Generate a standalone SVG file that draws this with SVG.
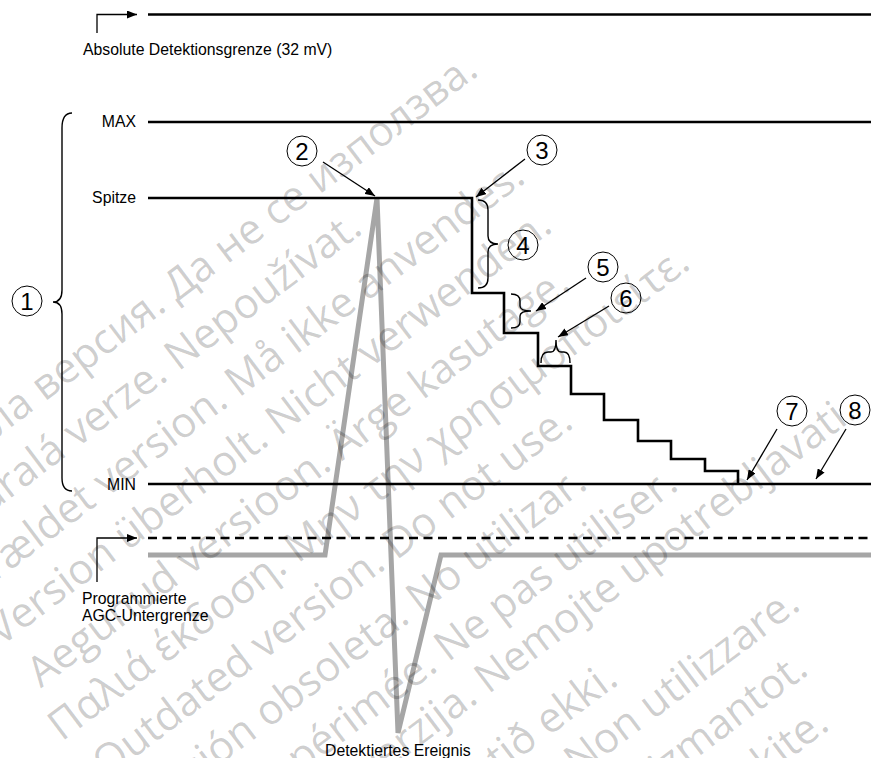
<svg xmlns="http://www.w3.org/2000/svg" width="871" height="758" viewBox="0 0 871 758">
<style>
.wm{font-family:"Open Sans","Noto Sans","DejaVu Sans",sans-serif;font-size:42px;fill:#000;fill-opacity:0.2;text-anchor:end}
.lbl{font-family:"Liberation Sans",Arial,sans-serif;font-size:15.8px;fill:#000}
.end{text-anchor:end}
.num{font-family:"Liberation Sans",Arial,sans-serif;font-size:24px;fill:#000;text-anchor:middle}
.lvl{fill:none;stroke:#000;stroke-width:2.6}
.thin{fill:none;stroke:#000;stroke-width:1.3}
.brace{fill:none;stroke:#000;stroke-width:1.4}
.circ{fill:#fff;stroke:#000;stroke-width:1}
.sig{fill:none;stroke:#a6a6a6;stroke-width:5}
</style>
<defs>
<marker id="ah" viewBox="0 0 10 8" refX="10" refY="4" markerWidth="10" markerHeight="8" markerUnits="userSpaceOnUse" orient="auto">
<path d="M0,0 L10,4 L0,8 Z" fill="#000"/>
</marker>
</defs>
<rect width="871" height="758" fill="#fff"/>
<g id="signal">
<polyline class="sig" points="148,555 325,555 377,198 398,733 441,555 871,555"/>
</g>
<g id="absolute-limit">
<path class="lvl" d="M148,14.5 H871"/>
<text class="lbl" x="83" y="55">Absolute Detektionsgrenze (32 mV)</text>
</g>
<g id="max-level">
<path class="lvl" d="M148,122 H871"/>
<text class="lbl end" x="136" y="127">MAX</text>
</g>
<g id="peak-threshold">
<path class="lvl" d="M148,198 H472 V293 H504 V333 H538 V366 H571 V394 H604 V420 H638 V441 H671 V459 H705 V471 H738 V484"/>
<text class="lbl end" x="136" y="203">Spitze</text>
</g>
<g id="min-level">
<path class="lvl" d="M148,484 H871"/>
<text class="lbl end" x="136" y="490">MIN</text>
</g>
<g id="agc-floor">
<path class="lvl" d="M148,538 H871" stroke-dasharray="9 5.5"/>
<text class="lbl" x="82" y="604">Programmierte</text>
<text class="lbl" x="82" y="621">AGC-Untergrenze</text>
</g>
<g id="detected-event">
<text class="lbl" x="325" y="756">Detektiertes Ereignis</text>
</g>
<g id="braces">
<path class="brace" d="M72,113 C65,113 62,118 62,128 L62,290 C62,298 59,302 53,302 C59,302 62,306 62,314 L62,478 C62,487 65,491 72,491"/>
<path class="brace" d="M478,200 C485,200 488,203 488,210 L488,236 C488,241 491,244 498,244 C491,244 488,247 488,252 L488,278 C488,285 485,288 478,288"/>
<path class="brace" d="M511,294 C517,294 520,296 520,301 L520,306 C520,309 524,311 531,311 C524,311 520,313 520,316 L520,322 C520,326 517,328 511,328"/>
<path class="brace" d="M541,363 C541,356 543,352 548,352 L551,352 C554,352 556,348 556,340 C556,348 558,352 561,352 L564,352 C568,352 570,356 570,363"/>
</g>
<g id="connectors">
<path class="thin" d="M97,33 V14.5 H137" marker-end="url(#ah)"/>
<path class="thin" d="M97,582 V538 H137" marker-end="url(#ah)"/>
<path class="thin" d="M323,162 L375,196" marker-end="url(#ah)"/>
<path class="thin" d="M525,159 L476,197" marker-end="url(#ah)"/>
<path class="thin" d="M586,278 L536,311" marker-end="url(#ah)"/>
<path class="thin" d="M609,306 L558,337" marker-end="url(#ah)"/>
<path class="thin" d="M777,429 L747,480" marker-end="url(#ah)"/>
<path class="thin" d="M846,429 L816,479" marker-end="url(#ah)"/>
</g>
<g id="callout-1"><circle class="circ" cx="27" cy="301" r="15"/><text class="num" x="27" y="309.5">1</text></g>
<g id="callout-2"><circle class="circ" cx="302" cy="151" r="15"/><text class="num" x="302" y="159.5">2</text></g>
<g id="callout-3"><circle class="circ" cx="542" cy="150" r="15"/><text class="num" x="542" y="158.5">3</text></g>
<g id="callout-4"><circle class="circ" cx="523" cy="245" r="15"/><text class="num" x="523" y="253.5">4</text></g>
<g id="callout-5"><circle class="circ" cx="603" cy="267" r="15"/><text class="num" x="603" y="275.5">5</text></g>
<g id="callout-6"><circle class="circ" cx="626" cy="298" r="15"/><text class="num" x="626" y="306.5">6</text></g>
<g id="callout-7"><circle class="circ" cx="792" cy="411" r="15"/><text class="num" x="792" y="419.5">7</text></g>
<g id="callout-8"><circle class="circ" cx="855" cy="410" r="15"/><text class="num" x="855" y="418.5">8</text></g>
<g id="watermark">
<text class="wm" transform="translate(480,74) rotate(-37)">Остаряла версия. Да не се използва.</text>
<text class="wm" transform="translate(364,232) rotate(-37)">Zastaralá verze. Nepoužívat.</text>
<text class="wm" transform="translate(527,181) rotate(-37)">Forældet version. Må ikke anvendes.</text>
<text class="wm" transform="translate(554,230) rotate(-37)">Version überholt. Nicht verwenden.</text>
<text class="wm" transform="translate(572,288) rotate(-37)">Aegunud versioon. Ärge kasutage.</text>
<text class="wm" transform="translate(692,267) rotate(-37)">Παλιά έκδοση. Μην την χρησιμοποιείτε.</text>
<text class="wm" transform="translate(575,426) rotate(-37)">Outdated version. Do not use.</text>
<text class="wm" transform="translate(589,487) rotate(-37)">Versión obsoleta. No utilizar.</text>
<text class="wm" transform="translate(680,488) rotate(-37)">Version périmée. Ne pas utiliser.</text>
<text class="wm" transform="translate(858,416) rotate(-37)">Zastarjela verzija. Nemojte upotrebljavati.</text>
<text class="wm" transform="translate(620,683) rotate(-37)">Úrelt útgáfa. Notið ekki.</text>
<text class="wm" transform="translate(802,608) rotate(-37)">Versione obsoleta. Non utilizzare.</text>
<text class="wm" transform="translate(810,673) rotate(-37)">Novecojusi versija. Neizmantot.</text>
<text class="wm" transform="translate(831,728) rotate(-37)">Pasenusi versija. Nenaudokite.</text>
</g>
</svg>
